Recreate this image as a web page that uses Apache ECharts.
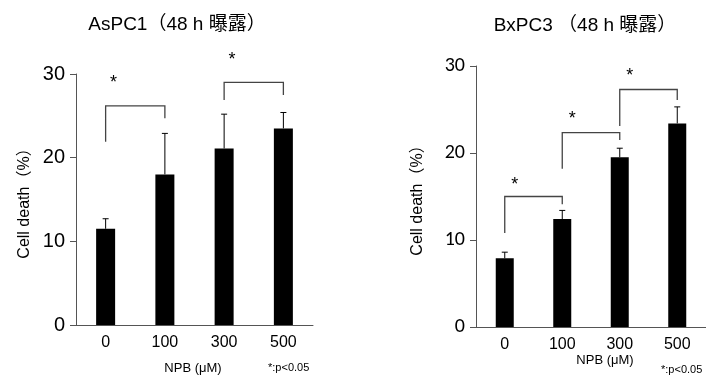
<!DOCTYPE html>
<html>
<head>
<meta charset="utf-8">
<script src="https://cdn.jsdelivr.net/npm/echarts@6/dist/echarts.min.js"></script>
<style>
  html, body { margin: 0; padding: 0; background: #fff; }
  #main { width: 706px; height: 378px; }
</style>
</head>
<body>
<div id="main"></div>
<script>
// categories / tick labels
var doses = ['0', '100', '300', '500'];
var yTicks = [0, 10, 20, 30];

// AsPC1 (left panel)
var aspcMean = [11.5, 18.0, 21.1, 23.5];
var aspcErr  = [12.7, 22.9, 25.2, 25.4];   // upper end of SD bar
// bracket: [fromIdx, toIdx, top, leftLegEnd, rightLegEnd, starValue]
var aspcBrackets = [
  [0, 1, 26.2, 21.9, 24.7, 29.2],
  [2, 3, 29.0, 26.9, 27.5, 31.9]
];

// BxPC3 (right panel)
var bxpcMean = [7.9, 12.4, 19.5, 23.4];
var bxpcErr  = [8.6, 13.4, 20.55, 25.3];
var bxpcBrackets = [
  [0, 1, 15.0, 10.8, 14.1, 16.6],
  [1, 2, 22.35, 18.2, 21.5, 24.1],
  [2, 3, 27.3, 23.1, 26.1, 29.1]
];

var chart = echarts.init(document.getElementById('main'));

function errSeries(idx, mean, err) {
  return {
    type: 'custom', xAxisIndex: idx, yAxisIndex: idx, z: 5,
    data: mean.map(function (m, i) { return [i, m, err[i]]; }),
    renderItem: function (params, api) {
      var lo = api.coord([api.value(0), api.value(1)]);
      var hi = api.coord([api.value(0), api.value(2)]);
      return {
        type: 'group',
        children: [
          { type: 'line', shape: { x1: lo[0], y1: lo[1], x2: hi[0], y2: hi[1] },
            style: { stroke: '#000', lineWidth: 1 } },
          { type: 'line', shape: { x1: hi[0] - 3, y1: hi[1], x2: hi[0] + 3, y2: hi[1] },
            style: { stroke: '#000', lineWidth: 1 } }
        ]
      };
    }
  };
}

function bracketSeries(idx, brackets, starOffset) {
  return {
    type: 'custom', xAxisIndex: idx, yAxisIndex: idx, z: 6, clip: false,
    data: brackets,
    renderItem: function (params, api) {
      var a = api.value(0), b = api.value(1);
      var tl = api.coord([a, api.value(2)]);
      var tr = api.coord([b, api.value(2)]);
      var bl = api.coord([a, api.value(3)]);
      var br = api.coord([b, api.value(4)]);
      var st = api.coord([a, api.value(5)]);
      return {
        type: 'group',
        children: [
          { type: 'polyline', shape: { points: [bl, tl, tr, br] },
            style: { stroke: '#444', lineWidth: 1.3, fill: null } },
          { type: 'text', x: st[0] + starOffset, y: st[1] + 2,
            style: { text: '*', fill: '#000', font: '18px Liberation Sans, Arial',
                     align: 'center', verticalAlign: 'middle' } }
        ]
      };
    }
  };
}

function yAxis(idx, fontFamily) {
  return {
    type: 'value', gridIndex: idx, min: yTicks[0], max: yTicks[yTicks.length - 1], interval: 10,
    name: 'Cell death（%）', nameLocation: 'middle', nameRotate: 90,
    nameGap: idx === 0 ? 43 : 50,
    nameTextStyle: { fontSize: 16, color: '#000', fontFamily: 'Liberation Sans, Noto Sans CJK JP' },
    axisLine: { show: true, lineStyle: { color: '#555', width: 1 } },
    axisTick: { show: true, length: 6, lineStyle: { color: '#555' } },
    splitLine: { show: false },
    axisLabel: { fontSize: 20, color: '#000', margin: 11, fontFamily: fontFamily }
  };
}

function xAxis(idx) {
  return {
    type: 'category', gridIndex: idx, data: doses,
    axisLine: { lineStyle: { color: '#555', width: 1 } },
    axisTick: { show: false },
    axisLabel: { fontSize: 16, color: '#000', margin: 10, fontFamily: 'Liberation Sans, Arial' }
  };
}

chart.setOption({
  animation: false,
  title: [
    { text: 'AsPC1（48 h 曝露）', left: 172, top: 10, textAlign: 'center',
      textStyle: { fontSize: 19, fontWeight: 'normal', color: '#000',
                   fontFamily: 'Liberation Sans, Noto Sans CJK JP' } },
    { text: 'BxPC3 （48 h 曝露）', left: 580, top: 11, textAlign: 'center',
      textStyle: { fontSize: 19, fontWeight: 'normal', color: '#000',
                   fontFamily: 'Liberation Sans, Noto Sans CJK JP' } }
  ],
  graphic: [
    { type: 'text', x: 193, y: 368, style: { text: 'NPB (μM)', font: '13px Liberation Sans, Arial', fill: '#000', align: 'center', verticalAlign: 'middle' } },
    { type: 'text', x: 268, y: 368, style: { text: '*:p<0.05', font: '11px Liberation Sans, Arial', fill: '#000', align: 'left', verticalAlign: 'middle' } },
    { type: 'text', x: 605, y: 360, style: { text: 'NPB (μM)', font: '13px Liberation Sans, Arial', fill: '#000', align: 'center', verticalAlign: 'middle' } },
    { type: 'text', x: 661, y: 370, style: { text: '*:p<0.05', font: '11px Liberation Sans, Arial', fill: '#000', align: 'left', verticalAlign: 'middle' } }
  ],
  grid: [
    { left: 76, top: 74, width: 237, height: 251 },
    { left: 476, top: 66, width: 230, height: 261 }
  ],
  xAxis: [xAxis(0), xAxis(1)],
  yAxis: [yAxis(0, 'Liberation Sans, Arial'), yAxis(1, 'Carlito, DejaVu Sans')],
  series: [
    { type: 'bar', xAxisIndex: 0, yAxisIndex: 0, data: aspcMean, barWidth: 19,
      itemStyle: { color: '#000' } },
    errSeries(0, aspcMean, aspcErr),
    bracketSeries(0, aspcBrackets, 8),
    { type: 'bar', xAxisIndex: 1, yAxisIndex: 1, data: bxpcMean, barWidth: 18,
      itemStyle: { color: '#000' } },
    errSeries(1, bxpcMean, bxpcErr),
    bracketSeries(1, bxpcBrackets, 10)
  ]
});
</script>
</body>
</html>
